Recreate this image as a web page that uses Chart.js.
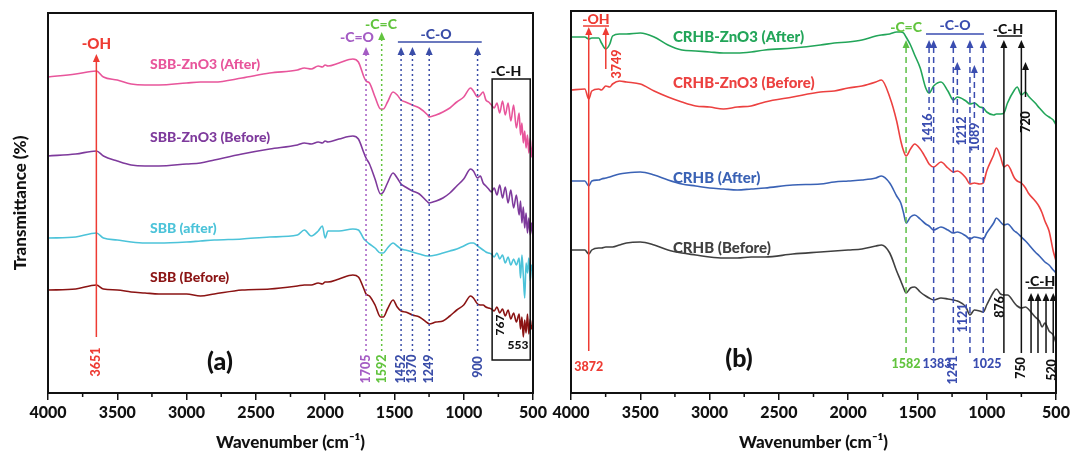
<!DOCTYPE html>
<html>
<head>
<meta charset="utf-8">
<script src="https://cdn.jsdelivr.net/npm/chart.js@4.4.1/dist/chart.umd.min.js"></script>
<style>
  html, body { margin: 0; padding: 0; background: #fff; overflow: hidden; }
  #wrap { position: relative; width: 1070px; height: 454px; }
  canvas { position: absolute; top: 0; }
  #chartA { left: 0; }
  #chartB { left: 540px; }
</style>
</head>
<body>
<div id="wrap">
  <canvas id="chartA" width="552" height="454"></canvas>
  <canvas id="chartB" width="540" height="454"></canvas>
</div>
<script>
const FONT = 'Lato, "Open Sans", sans-serif';
const WEIGHT = 900;

// panel (a): wavenumbers (cm-1) and transmittance (a.u., offset per curve)
const wnA = [
  4000, 3800, 3651, 3600, 3500, 3400, 3300, 3200, 3000, 2900,
  2800, 2600, 2400, 2200, 2150, 2100, 2050, 2020, 2000, 1980,
  1900, 1800, 1760, 1720, 1705, 1680, 1640, 1600, 1580, 1550,
  1510, 1480, 1452, 1420, 1370, 1320, 1260, 1249, 1200, 1150,
  1100, 1050, 1000, 950, 930, 900, 880, 860, 840, 820,
  800, 780, 760, 740, 720, 700, 680, 660, 640, 620,
  600, 590, 580, 570, 560, 550, 540, 530, 520, 510,
  500
];
const sbbZnAfter = [
  316, 319, 322, 316, 313, 309, 308, 308, 310, 311,
  311, 315, 320, 323, 325, 324, 327, 326, 328, 327,
  330, 334, 331, 316, 312, 310, 296, 284, 284, 291,
  301, 298, 293, 291, 288, 285, 278, 276, 278, 281,
  285, 291, 296, 305, 302, 296, 298, 301, 293, 291,
  288, 285, 290, 280, 292, 278, 290, 272, 288, 265,
  280, 258, 270, 250, 262, 245, 258, 240, 255, 236,
  250
];
const sbbZnBefore = [
  237, 239, 242, 237, 232, 228, 227, 227, 229, 230,
  233, 239, 244, 248, 250, 249, 251, 250, 252, 251,
  254, 257, 254, 240, 235, 229, 214, 199, 201, 210,
  220, 215, 209, 206, 202, 199, 191, 190, 192, 195,
  200, 207, 214, 224, 222, 215, 217, 210, 207, 204,
  201, 205, 198, 208, 195, 206, 190, 203, 185, 198,
  178, 192, 170, 186, 165, 180, 160, 175, 158, 170,
  155
];
const sbbAfter = [
  155, 156, 160, 155, 153, 151, 150, 150, 151, 152,
  153, 154, 156, 158, 163, 157, 162, 167, 155, 162,
  162, 164, 163, 154, 152, 149, 145, 140, 140, 145,
  150, 147, 144, 143, 141, 139, 137, 137, 138, 140,
  142, 144, 147, 150, 150, 147, 145, 143, 141, 140,
  139, 136, 140, 134, 138, 130, 136, 128, 134, 128,
  135, 115, 138, 118, 95, 130, 120, 135, 112, 128,
  120
];
const sbbBefore = [
  103, 104, 108, 104, 103, 101, 100, 99, 99, 97,
  99, 103, 104, 107, 108, 108, 110, 109, 111, 111,
  114, 118, 116, 104, 99, 97, 88, 76, 76, 84,
  93, 86, 82, 81, 78, 76, 70, 69, 71, 72,
  77, 83, 88, 97, 95, 89, 88, 88, 86, 85,
  84, 82, 86, 80, 84, 77, 83, 74, 80, 71,
  79, 64, 76, 56, 73, 60, 79, 59, 74, 64,
  69
];

// panel (b)
const wnB = [
  4000, 3900, 3872, 3850, 3800, 3780, 3749, 3720, 3700, 3650,
  3600, 3500, 3400, 3300, 3200, 3100, 3000, 2900, 2800, 2700,
  2600, 2400, 2200, 2100, 2000, 1900, 1800, 1760, 1700, 1650,
  1620, 1600, 1582, 1550, 1520, 1480, 1440, 1416, 1383, 1330,
  1280, 1241, 1212, 1150, 1121, 1089, 1050, 1025, 1000, 950,
  930, 900, 876, 850, 800, 780, 750, 720, 700, 650,
  620, 600, 580, 550, 520, 500
];
const crhbZnAfter = [
  356, 356, 354, 355, 355, 350, 344, 349, 357, 359,
  359, 360, 356, 348, 343, 342, 341, 340, 340, 341,
  343, 345, 348, 350, 351, 353, 357, 358, 359, 361,
  361, 360, 356, 348, 338, 325, 305, 300, 307, 311,
  302, 293, 296, 292, 289, 290, 286, 285, 281, 278,
  279, 279, 280, 290, 303, 306, 298, 301, 297, 290,
  285, 282, 279, 276, 273, 268
];
const crhbZnBefore = [
  303, 304, 294, 302, 304, 303, 307, 306, 309, 312,
  311, 309, 302, 296, 291, 287, 286, 284, 286, 287,
  291, 296, 301, 302, 305, 307, 311, 313, 296, 272,
  252, 242, 237, 244, 249, 244, 235, 229, 226, 231,
  225, 221, 222, 215, 209, 210, 209, 210, 222, 238,
  245, 236, 226, 228, 215, 212, 210, 205, 200, 192,
  186, 180, 172, 162, 142, 132
];
const crhbAfter = [
  212, 212, 207, 212, 213, 214, 215, 216, 217, 219,
  220, 221, 218, 213, 209, 207, 205, 204, 203, 204,
  205, 208, 209, 211, 212, 213, 215, 217, 210, 197,
  190, 180, 170, 176, 178, 174, 169, 167, 163, 166,
  163, 160, 161, 157, 154, 156, 155, 154, 160, 170,
  175, 171, 168, 169, 162, 160, 156, 152, 149, 141,
  137, 134, 131, 128, 123, 120
];
const crhbBefore = [
  143, 143, 139, 143, 145, 145, 146, 146, 146, 148,
  150, 151, 148, 143, 140, 138, 136, 135, 135, 136,
  136, 139, 141, 142, 143, 144, 147, 148, 140, 122,
  112, 105, 100, 105, 106, 101, 97, 95, 93, 95,
  94, 93, 92, 86, 78, 83, 82, 81, 88, 101,
  104, 99, 98, 98, 90, 87, 85, 86, 84, 76,
  72, 66, 70, 62, 58, 50
];

const xTicks = [4000, 3500, 3000, 2500, 2000, 1500, 1000, 500];
const xMinorTicks = [3750, 3250, 2750, 2250, 1750, 1250, 750];

const RED = '#ee3b33', PURPLE_L = '#a45cc4', GREEN_L = '#62c43e', BLUE_A = '#3a4da8', INK = '#111';

const seriesA = [
  { name: 'SBB-ZnO3 (After)', values: sbbZnAfter, color: '#e8559b' },
  { name: 'SBB-ZnO3 (Before)', values: sbbZnBefore, color: '#7e3a9c' },
  { name: 'SBB (after)', values: sbbAfter, color: '#4cc3d9' },
  { name: 'SBB (Before)', values: sbbBefore, color: '#8b1414' }
];
const seriesB = [
  { name: 'CRHB-ZnO3 (After)', values: crhbZnAfter, color: '#22a559' },
  { name: 'CRHB-ZnO3 (Before)', values: crhbZnBefore, color: '#ec4140' },
  { name: 'CRHB (After)', values: crhbAfter, color: '#3a62b5' },
  { name: 'CRHB (Before)', values: crhbBefore, color: '#404040' }
];

// annotations (wavenumber on x, transmittance units on y)
const dot = [2, 3], dash = [6, 4];
const notesA = {
  vlines: [
    { wn: 3651, top: 339, bottom: 56, color: RED },
    { wn: 1705, top: 346, bottom: 41, color: PURPLE_L, dash: dot },
    { wn: 1592, top: 361, bottom: 41, color: GREEN_L, dash: dot },
    { wn: 1452, top: 346, bottom: 41, color: BLUE_A, dash: dot },
    { wn: 1370, top: 346, bottom: 41, color: BLUE_A, dash: dot },
    { wn: 1249, top: 346, bottom: 41, color: BLUE_A, dash: dot },
    { wn: 900, top: 346, bottom: 41, color: BLUE_A, dash: dot }
  ],
  hlines: [{ from: 1475, to: 870, v: 351, color: BLUE_A }],
  boxes: [{ from: 795, to: 520, top: 314, bottom: 33 }],
  texts: [
    { t: '-OH', wn: 3651, v: 349, color: RED, size: 15 },
    { t: '-C=O', wn: 1770, v: 356, color: PURPLE_L, size: 14 },
    { t: '-C=C', wn: 1597, v: 369, color: GREEN_L, size: 14 },
    { t: '-C-O', wn: 1200, v: 359, color: BLUE_A, size: 14 },
    { t: '-C-H', wn: 695, v: 322, color: INK, size: 14 },
    { t: '553', wn: 608, v: 48, color: INK, size: 12 },
    { t: '(a)', wn: 2759, v: 31, color: INK, size: 25 },
    { t: '3651', wn: 3651, v: 31, color: RED, size: 12.5, rot: true },
    { t: '1705', wn: 1705, v: 24, color: PURPLE_L, size: 12.5, rot: true },
    { t: '1592', wn: 1592, v: 24, color: GREEN_L, size: 12.5, rot: true },
    { t: '1452', wn: 1452, v: 24, color: BLUE_A, size: 12.5, rot: true },
    { t: '1370', wn: 1370, v: 24, color: BLUE_A, size: 12.5, rot: true },
    { t: '1249', wn: 1249, v: 24, color: BLUE_A, size: 12.5, rot: true },
    { t: '900', wn: 900, v: 26, color: BLUE_A, size: 12.5, rot: true },
    { t: '767', wn: 738, v: 68, color: INK, size: 12, rot: true },
    { t: 'SBB-ZnO3 (After)', wn: 3264, v: 329, color: '#e8559b', size: 14, align: 'left' },
    { t: 'SBB-ZnO3 (Before)', wn: 3264, v: 256, color: '#7e3a9c', size: 14, align: 'left' },
    { t: 'SBB (after)', wn: 3264, v: 165, color: '#4cc3d9', size: 14, align: 'left' },
    { t: 'SBB (Before)', wn: 3264, v: 116, color: '#8b1414', size: 14, align: 'left' }
  ]
};
const BLUE_B = '#3a4db0', GREEN_B = '#5cbf45';
const notesB = {
  vlines: [
    { wn: 3872, top: 366, bottom: 42, color: RED },
    { wn: 3749, top: 366, bottom: 324, color: RED },
    { wn: 1582, top: 353, bottom: 40, color: GREEN_B, dash },
    { wn: 1416, top: 353, bottom: 283, color: BLUE_B, dash },
    { wn: 1383, top: 353, bottom: 40, color: BLUE_B, dash },
    { wn: 1241, top: 353, bottom: 40, color: BLUE_B, dash },
    { wn: 1212, top: 331, bottom: 280, color: BLUE_B, dash },
    { wn: 1121, top: 353, bottom: 40, color: BLUE_B, dash },
    { wn: 1089, top: 328, bottom: 275, color: BLUE_B, dash },
    { wn: 1025, top: 353, bottom: 40, color: BLUE_B, dash },
    { wn: 876, top: 353, bottom: 40, color: INK },
    { wn: 750, top: 353, bottom: 40, color: INK },
    { wn: 720, top: 331, bottom: 296, color: INK },
    { wn: 680, top: 100, bottom: 40, color: INK },
    { wn: 630, top: 100, bottom: 40, color: INK },
    { wn: 572, top: 100, bottom: 40, color: INK },
    { wn: 520, top: 100, bottom: 40, color: INK }
  ],
  hlines: [
    { from: 3913, to: 3726, v: 367, color: RED },
    { from: 1438, to: 1020, v: 359, color: BLUE_B },
    { from: 926, to: 746, v: 357, color: INK },
    { from: 702, to: 520, v: 105, color: INK }
  ],
  boxes: [],
  texts: [
    { t: '-OH', wn: 3820, v: 374, color: RED, size: 14 },
    { t: '-C=C', wn: 1582, v: 366, color: GREEN_L, size: 14 },
    { t: '-C-O', wn: 1229, v: 368, color: BLUE_B, size: 14 },
    { t: '-C-H', wn: 846, v: 364, color: INK, size: 14 },
    { t: '-C-H', wn: 615, v: 112, color: INK, size: 14 },
    { t: '3872', wn: 3872, v: 26, color: RED, size: 12.5 },
    { t: '1582', wn: 1582, v: 29, color: GREEN_L, size: 12.5 },
    { t: '1383', wn: 1358, v: 29, color: BLUE_B, size: 12.5 },
    { t: '1025', wn: 998, v: 29, color: BLUE_B, size: 12.5 },
    { t: '3749', wn: 3668, v: 329, color: RED, size: 12.5, rot: true },
    { t: '1416', wn: 1424, v: 265, color: BLUE_B, size: 12.5, rot: true },
    { t: '1212', wn: 1178, v: 262, color: BLUE_B, size: 12.5, rot: true },
    { t: '1089', wn: 1085, v: 256, color: BLUE_B, size: 12.5, rot: true },
    { t: '1241', wn: 1241, v: 23, color: BLUE_B, size: 12.5, rot: true },
    { t: '1121', wn: 1171, v: 75, color: BLUE_B, size: 12.5, rot: true },
    { t: '876', wn: 904, v: 86, color: INK, size: 12.5, rot: true },
    { t: '750', wn: 750, v: 25, color: INK, size: 12.5, rot: true },
    { t: '720', wn: 720, v: 271, color: INK, size: 12.5, rot: true },
    { t: '520', wn: 527, v: 23, color: INK, size: 12.5, rot: true },
    { t: '(b)', wn: 2788, v: 34, color: INK, size: 25 },
    { t: 'CRHB-ZnO3 (After)', wn: 3264, v: 356, color: '#22a559', size: 15, align: 'left' },
    { t: 'CRHB-ZnO3 (Before)', wn: 3264, v: 310, color: '#ec4140', size: 15, align: 'left' },
    { t: 'CRHB (After)', wn: 3264, v: 215, color: '#3a62b5', size: 15, align: 'left' },
    { t: 'CRHB (Before)', wn: 3264, v: 145, color: '#404040', size: 15, align: 'left' }
  ]
};

function annotator(notes) {
  return {
    id: 'annotate',
    afterDatasetsDraw(chart) {
      const { ctx, chartArea: a, scales: { x, y } } = chart;
      const X = v => x.getPixelForValue(v), Y = v => y.getPixelForValue(v);
      ctx.save();
      ctx.strokeStyle = INK;
      ctx.lineWidth = 2;
      ctx.strokeRect(a.left, a.top, a.right - a.left, a.bottom - a.top);
      ctx.lineWidth = 1.5;
      xMinorTicks.forEach(w => {
        ctx.beginPath();
        ctx.moveTo(X(w), a.bottom);
        ctx.lineTo(X(w), a.bottom + 4);
        ctx.stroke();
      });
      notes.boxes.forEach(b => {
        ctx.strokeStyle = INK;
        ctx.lineWidth = 1.5;
        ctx.strokeRect(X(b.from), Y(b.top), X(b.to) - X(b.from), Y(b.bottom) - Y(b.top));
      });
      notes.vlines.forEach(m => {
        const px = X(m.wn), y0 = Y(m.top), y1 = Y(m.bottom);
        ctx.strokeStyle = m.color;
        ctx.fillStyle = m.color;
        ctx.lineWidth = 1.5;
        ctx.setLineDash(m.dash || []);
        ctx.beginPath();
        ctx.moveTo(px, y0 + 7);
        ctx.lineTo(px, y1);
        ctx.stroke();
        ctx.setLineDash([]);
        ctx.beginPath();
        ctx.moveTo(px, y0);
        ctx.lineTo(px - 3.5, y0 + 8);
        ctx.lineTo(px + 3.5, y0 + 8);
        ctx.closePath();
        ctx.fill();
      });
      notes.hlines.forEach(h => {
        ctx.strokeStyle = h.color;
        ctx.lineWidth = 1.5;
        ctx.beginPath();
        ctx.moveTo(X(h.from), Y(h.v));
        ctx.lineTo(X(h.to), Y(h.v));
        ctx.stroke();
      });
      notes.texts.forEach(t => {
        ctx.save();
        ctx.font = `${WEIGHT} ${t.size}px ${FONT}`;
        ctx.fillStyle = t.color;
        ctx.textAlign = t.align || 'center';
        ctx.textBaseline = 'middle';
        ctx.translate(X(t.wn), Y(t.v));
        if (t.rot) ctx.rotate(-Math.PI / 2);
        ctx.fillText(t.t, 0, 0);
        ctx.restore();
      });
      ctx.restore();
    }
  };
}

function makeChart(id, wn, series, notes, opt) {
  new Chart(document.getElementById(id), {
    type: 'line',
    data: {
      datasets: series.map(s => ({
        label: s.name,
        data: wn.map((w, i) => ({ x: w, y: s.values[i] })),
        borderColor: s.color,
        borderWidth: 1.6,
        pointRadius: 0,
        cubicInterpolationMode: 'monotone',
        fill: false
      }))
    },
    options: {
      responsive: false,
      animation: false,
      layout: { padding: { top: opt.top, right: opt.right, left: 0, bottom: 0 } },
      plugins: { legend: { display: false }, tooltip: { enabled: false } },
      scales: {
        x: {
          type: 'linear',
          min: 500,
          max: 4000,
          reverse: true,
          afterBuildTicks: s => { s.ticks = xTicks.map(v => ({ value: v })); },
          afterFit: s => { s.height = 61; },
          ticks: {
            color: INK,
            font: { family: FONT, size: 16, weight: WEIGHT },
            padding: 3,
            maxRotation: 0,
            autoSkip: false,
            callback: v => String(v)
          },
          grid: { drawOnChartArea: false, drawTicks: true, tickLength: 7, color: INK, lineWidth: 1.5 },
          border: { display: true, color: INK, width: 2 },
          title: { display: true, text: 'Wavenumber (cm⁻¹)', color: INK, font: { family: FONT, size: 17, weight: WEIGHT }, padding: { top: 0, bottom: 1 } }
        },
        y: {
          min: 0,
          max: opt.ymax,
          afterFit: s => { s.width = opt.yWidth; },
          ticks: { display: false },
          grid: { display: false },
          border: { display: false },
          title: { display: !!opt.yTitle, text: opt.yTitle || '', color: INK, font: { family: FONT, size: 17, weight: WEIGHT }, padding: { top: 10, bottom: 0 } }
        }
      }
    },
    plugins: [annotator(notes)]
  });
}

makeChart('chartA', wnA, seriesA, notesA, { top: 13, right: 19, ymax: 380, yWidth: 48, yTitle: 'Transmittance (%)' });
makeChart('chartB', wnB, seriesB, notesB, { top: 11, right: 24, ymax: 382, yWidth: 31 });
</script>
</body>
</html>
